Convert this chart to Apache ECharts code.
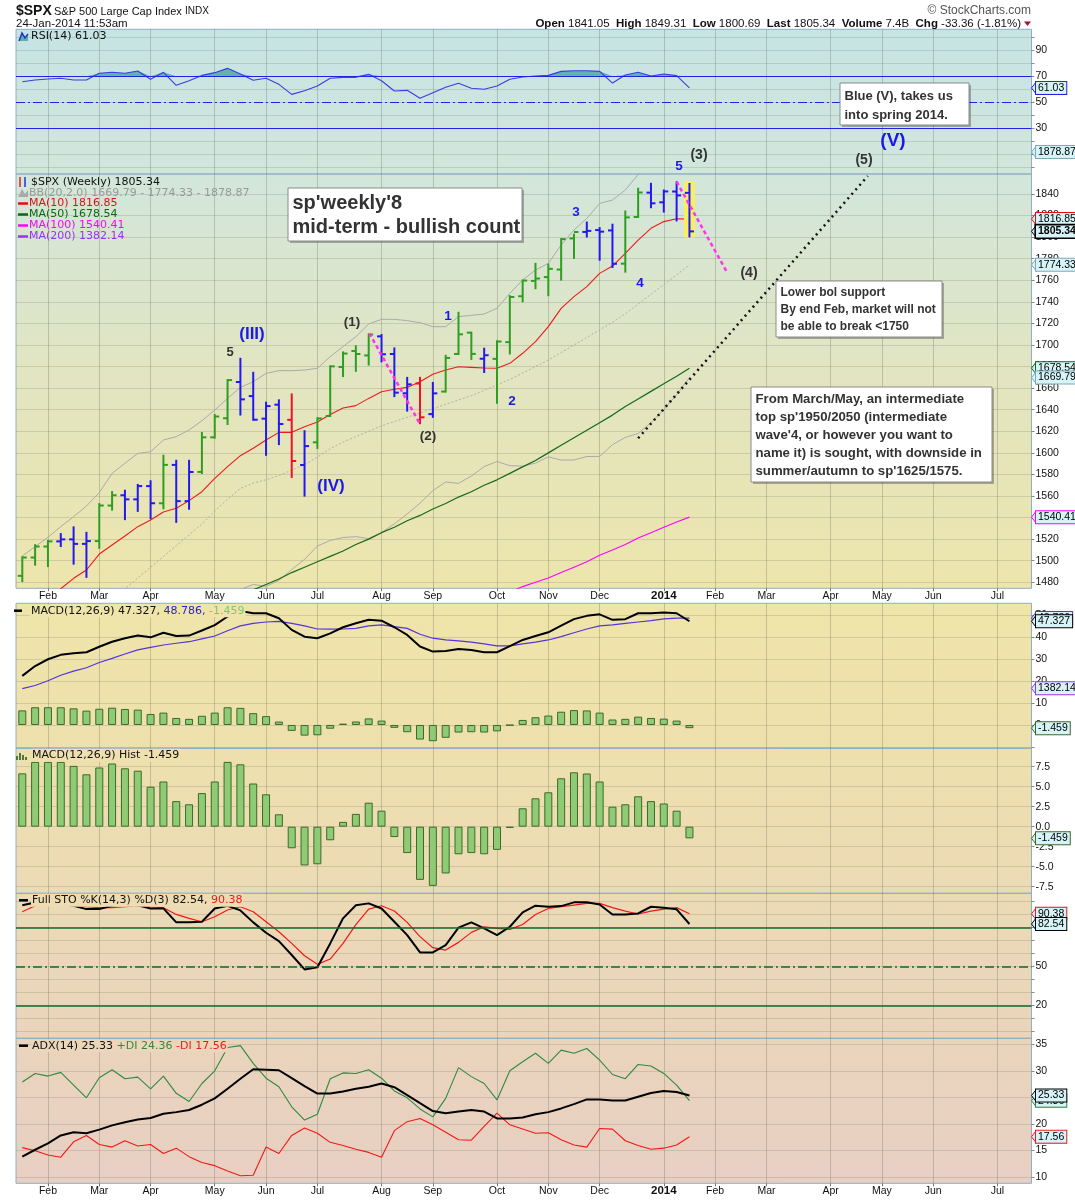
<!DOCTYPE html>
<html><head><meta charset="utf-8">
<script src="https://cdn.jsdelivr.net/npm/echarts@6/dist/echarts.min.js"></script>
<style>html,body{margin:0;padding:0;background:#fff}#c{width:1075px;height:1200px}</style>
</head><body><div id="c"></div>
<script>
// ---------- DATA (weekly bars, index 0 = week of 21-Jan-2013, 52 = week of 20-Jan-2014) ----------
const monthTickIdx = [2,6,10,15,19,23,28,32,37,41,45,50,54,58,63,67,71,76];
const monthTickLabels = ['Feb','Mar','Apr','May','Jun','Jul','Aug','Sep','Oct','Nov','Dec','2014','Feb','Mar','Apr','May','Jun','Jul'];

const open = [1485.98,1502.96,1513.17,1517.93,1519.79,1515.60,1518.20,1551.15,1560.70,1556.89,1569.18,1553.26,1588.84,1555.25,1582.34,1614.40,1632.10,1665.71,1652.63,1631.71,1644.67,1630.64,1588.77,1609.78,1634.20,1679.59,1694.41,1690.32,1708.01,1691.65,1655.25,1664.29,1635.95,1656.85,1691.70,1711.44,1687.26,1687.15,1702.68,1745.20,1759.42,1762.97,1769.96,1798.82,1804.82,1806.55,1806.21,1775.42,1818.70,1841.26,1832.31,1842.29,1841.05];
const high = [1503.26,1514.41,1518.31,1524.69,1530.94,1525.84,1552.48,1563.62,1564.91,1570.28,1573.66,1597.35,1592.64,1592.64,1618.46,1635.01,1667.47,1687.18,1674.21,1646.53,1648.69,1654.19,1620.07,1632.07,1680.19,1693.12,1698.78,1709.67,1709.24,1696.81,1669.51,1669.51,1664.83,1689.97,1729.86,1711.44,1696.55,1703.44,1745.31,1759.82,1775.22,1774.54,1798.22,1802.33,1813.55,1808.37,1811.52,1823.75,1844.89,1849.44,1843.23,1850.84,1849.31];
const low = [1481.16,1496.33,1495.02,1513.61,1497.29,1485.01,1512.00,1547.36,1538.57,1546.22,1539.50,1548.60,1536.03,1548.19,1581.28,1614.10,1626.74,1635.53,1630.74,1598.23,1608.07,1577.70,1560.33,1604.57,1634.20,1671.20,1676.03,1681.86,1684.91,1652.61,1639.18,1627.47,1633.41,1656.85,1691.70,1687.11,1674.99,1646.47,1692.13,1740.50,1752.70,1746.20,1760.64,1780.75,1800.58,1779.09,1772.28,1767.99,1818.70,1827.74,1823.73,1815.52,1800.69];
const close = [1502.96,1513.17,1517.93,1519.79,1515.60,1518.20,1551.18,1560.70,1556.89,1569.19,1553.28,1588.85,1555.25,1582.24,1614.42,1633.70,1667.47,1649.60,1630.74,1643.38,1626.73,1592.43,1606.28,1631.89,1680.19,1692.09,1691.65,1709.67,1691.42,1655.83,1663.50,1632.97,1655.17,1687.99,1709.91,1691.75,1690.50,1703.20,1744.50,1759.77,1761.64,1770.61,1798.18,1804.76,1805.81,1805.09,1775.32,1818.32,1841.40,1831.37,1842.37,1838.70,1805.34];
const barColors = ['g','g','g','b','b','b','g','g','b','b','b','g','b','b','g','g','g','b','b','b','b','r','b','g','g','g','g','g','b','b','b','r','b','g','g','g','b','g','g','g','g','g','g','g','b','b','b','g','g','b','b','b','b'];

const ma10 = [1452,1459,1466,1474,1483.7,1491.4,1506.2,1514.6,1522.9,1531.6,1537.7,1545.2,1548.6,1555.7,1564.0,1576.4,1587.2,1597.4,1604.2,1611.9,1619.0,1619.0,1624.3,1628.6,1635.5,1641.6,1643.8,1650.5,1656.7,1658.9,1660.7,1666.0,1672.8,1676.8,1679.9,1679.3,1678.7,1678.4,1683.0,1692.3,1703.1,1717.0,1734.0,1744.8,1754.1,1766.4,1773.2,1785.0,1797.3,1808.2,1814.4,1817.1,1816.85];
const ma50 = [null,null,null,null,null,null,null,null,null,null,null,null,null,null,null,1460,1465,1470,1473,1478,1483,1489,1494,1499,1504,1509,1515,1520,1526,1531,1537,1542,1548,1553,1559,1564,1570,1575,1581,1587,1593,1600,1607,1614,1621,1628,1635,1643,1650,1657,1664,1671,1678.54];
const ma100 = [null,null,null,null,null,null,null,null,null,null,null,null,null,null,null,null,null,null,null,null,null,null,null,null,null,null,null,null,null,null,null,null,null,null,null,null,null,1466,1471,1476,1480,1484,1489,1494,1499,1505,1510,1515,1521,1526,1531,1536,1540.41];
const bbUpper = [1504.4,1513.0,1521.7,1531.6,1540.8,1550.7,1563.1,1581.0,1590.3,1599.5,1601.1,1611.9,1615.0,1621.2,1629.8,1639.7,1650.5,1660.7,1666.0,1673.7,1676.2,1676.2,1676.8,1678.4,1689.2,1698.5,1707.7,1719.5,1723.8,1723.8,1722.6,1720.7,1717.0,1717.0,1726.3,1727.5,1728.7,1734.0,1747.9,1760.3,1769.5,1775.7,1792.7,1806.6,1817.4,1831.3,1834.4,1843.7,1858.0,1866.0,1872.0,1876.0,1878.87];
const bbMid = [1420,1427,1433,1440,1446,1452,1459,1466,1474,1484,1494,1504,1514,1524,1534,1546,1557,1567,1572,1575,1579,1584,1589,1596,1604,1610,1615,1620,1625,1629,1633,1637,1641,1645,1649,1653,1658,1663,1668,1674,1680,1686,1693,1700,1707,1714,1721,1729,1738,1747,1756,1765,1774.33];
const bbLower = [1335.6,1341.0,1344.3,1348.4,1351.2,1353.3,1354.9,1351.0,1357.7,1368.5,1386.9,1396.1,1413.0,1426.8,1438.2,1452.3,1463.5,1473.3,1478.0,1476.3,1481.8,1491.8,1501.2,1513.6,1518.8,1521.5,1522.3,1520.5,1526.2,1534.2,1543.4,1553.3,1565.0,1573.0,1571.7,1578.5,1587.3,1592.0,1588.1,1587.7,1590.5,1596.3,1593.3,1593.4,1596.6,1596.7,1607.6,1614.3,1618.0,1628.0,1640.0,1654.0,1669.79];

const rsi = [65.8,67.2,67.9,68.5,67.2,67.2,72.3,73.1,72.3,74.1,67.7,73.1,63.1,66.6,70.7,72.8,76.1,71.8,66.9,68.5,63.8,56.1,58.9,62.5,68.5,69.2,69.2,71.5,66.6,58.7,59.2,53.1,57.4,61.5,64.6,60.8,60.0,62.5,67.7,69.5,70.2,70.7,73.8,74.3,74.3,73.8,64.8,71.0,73.1,70.2,71.8,70.5,61.03];
const macd = [22.4,26.9,30.0,32.0,32.7,33.2,35.7,38.0,39.6,40.8,40.0,42.1,40.6,40.8,43.1,45.6,49.5,52.0,51.0,51.0,48.7,43.4,40.3,39.6,41.8,44.6,46.4,48.0,47.6,44.6,41.1,35.8,33.5,33.8,34.7,34.2,33.2,33.2,36.0,38.8,40.6,42.3,45.3,48.3,49.8,50.5,48.0,48.3,51.0,51.0,51.3,51.0,47.327];
const macdSignal = [16.6,18.0,20.2,22.7,24.6,26.1,28.5,30.4,32.4,34.3,35.4,36.5,37.3,38.0,39.3,40.6,43.0,45.2,46.4,47.0,47.3,46.4,45.2,43.8,43.7,43.8,44.1,45.2,45.7,44.9,44.1,41.4,39.6,38.8,38.4,37.8,37.0,36.1,36.1,37.0,37.8,38.8,40.3,42.1,43.8,45.2,45.7,46.4,47.0,47.6,48.4,48.8,48.786];
const macdHist = [6.67,8.1,8.1,8.1,7.6,6.55,7.4,7.9,7.3,7.0,5.0,5.65,3.2,2.8,4.2,5.65,8.1,7.8,5.4,4.05,1.55,-2.7,-4.85,-4.7,-1.7,0.6,1.6,3.0,2.0,-1.3,-3.3,-6.65,-7.4,-5.85,-3.45,-3.3,-3.45,-2.9,-0.15,2.3,3.55,4.3,6.05,6.8,6.65,5.65,2.5,2.8,3.8,3.2,2.9,2.0,-1.459];
const stoK = [97,99,99,98,96.6,94.0,94.0,96.6,98,97,94.5,94.5,83.8,83.8,84.3,94.5,96.6,93.0,83.8,75.8,69.4,58.7,47.6,49.2,67.6,86.9,97.0,98.4,94.5,84.3,74.0,60.7,60.7,66.3,79.7,83.8,79.2,74.0,80.4,91.5,96.6,95.8,96.3,99.2,99.2,97.6,89.9,89.9,90.7,95.8,95.1,93.8,82.54];
const stoD = [92,96.6,98,98,96.6,95.8,95.1,95.1,95.8,96.6,95.8,95.1,89.9,86.9,84.3,88.1,93.3,95.8,92.0,84.3,76.6,67.6,58.1,51.5,55.6,67.6,82.0,94.0,96.6,92.5,83.8,72.8,64.3,62.5,68.4,76.1,80.4,79.2,78.4,82.2,89.9,94.5,95.8,97.1,98.4,98.4,95.1,92.5,90.2,92.5,94.0,95.1,90.38];
const adx = [13.8,15.1,16.3,17.8,18.4,18.2,18.9,19.7,20.3,20.8,21.1,21.9,22.2,22.6,23.6,24.8,26.6,28.5,30.3,30.2,30.1,28.6,27.1,25.7,25.7,26.1,26.6,27.0,27.6,26.9,25.4,23.9,22.4,22.0,22.3,22.6,22.3,21.0,21.0,21.2,21.8,22.2,22.9,23.7,24.6,24.6,24.4,24.4,25.1,25.8,26.2,26.0,25.33];
const plusDI = [27.9,29.5,29.0,29.7,27.3,24.9,28.7,30.2,28.5,28.8,26.6,29.0,25.75,24.2,27.6,30.0,34.4,34.75,31.4,28.6,27.0,23.2,20.7,21.8,28.5,29.6,29.5,30.2,28.6,26.2,24.9,22.8,21.3,24.8,30.6,28.9,27.6,24.5,30.0,31.7,33.3,31.4,33.9,33.3,34.2,32.0,29.3,28.5,31.2,30.9,29.5,27.3,24.36];
const minusDI = [15.5,14.9,14.1,13.7,16.6,17.8,16.1,15.6,16.8,15.8,16.1,14.4,15.4,13.8,12.7,12.1,11.1,10.2,10.3,15.6,14.4,17.8,19.2,18.2,16.5,15.9,15.2,14.6,13.7,18.7,20.4,21.0,19.8,18.4,17.0,16.9,19.5,22.0,19.8,19.0,18.2,18.3,17.0,16.0,15.6,19.1,19.0,16.8,15.9,15.2,15.4,16.0,17.56];

// axis tick values
const rsiTicks = [30,50,70,90];
const rsiGridVals = [0,10,20,30,40,50,60,70,80,90,100];
const priceTicks = [1480,1500,1520,1540,1560,1580,1600,1620,1640,1660,1680,1700,1720,1740,1760,1780,1800,1820,1840];
const macdTicks = [0,10,20,30,40,50];
const macdGridVals = [-10,0,10,20,30,40,50];
const histTicks = [-7.5,-5,-2.5,0,2.5,5,7.5];
const stoTicks = [20,50,80];
const stoGridVals = [0,10,20,30,40,50,60,70,80,90,100];
const adxTicks = [10,15,20,25,30,35];

// analyst trend lines (data-space endpoints)
const trendLines = [
  {from:[27.05,1710.9], to:[30.94,1628.0], kind:'magenta'},
  {from:[51.0,1851.4], to:[54.9,1768.0], kind:'magenta'},
  {from:[48.0,1613.5], to:[65.9,1856.7], kind:'dots'}
];

// ---------- LAYOUT ----------
const L = 16, R = 1031.5, XMIN = -0.49, XMAX = 78.66;
const FA = 'Liberation Sans', FD = 'DejaVu Sans';
const panels = [
  {top:29.3, bottom:174, min:-5.15, max:106.15, lines:rsiGridVals, labels:rsiTicks, fmt:v=>String(v)},
  {top:174, bottom:588.3, min:1474.43, max:1858.54, lines:priceTicks, labels:priceTicks, fmt:v=>String(v)},
  {top:603.3, bottom:748.3, min:-10.64, max:55.53, lines:macdGridVals, labels:macdTicks, fmt:v=>String(v)},
  {top:748.3, bottom:893.3, min:-8.33, max:9.8, lines:histTicks, labels:histTicks, fmt:v=>v.toFixed(1)},
  {top:893.3, bottom:1038.3, min:-5.38, max:106.15, lines:stoGridVals, labels:stoTicks, fmt:v=>String(v)},
  {top:1038.3, bottom:1183.3, min:8.77, max:36.13, lines:adxTicks, labels:adxTicks, fmt:v=>String(v)}
];
const colorMap = {g:'#2e9e22', b:'#2418f0', r:'#f01028'};
const pts = a => a.map((v,i)=>[i,v]);
const fmtMonth = v => { const k = monthTickIdx.indexOf(Math.round(v)); const t = monthTickLabels[k] || ''; return t === '2014' ? '{b|2014}' : t; };

const grids = panels.map(p => ({left:L, top:p.top, width:R-L, height:p.bottom-p.top, show:true, borderColor:'#8fb0c0', borderWidth:1, backgroundColor:'transparent'}));
const xAxes = panels.map((p,i) => ({
  type:'value', gridIndex:i, min:XMIN, max:XMAX, position:'bottom',
  axisLine:{show:false, onZero:false},
  axisTick:{show:(i===1||i===5), customValues:monthTickIdx, length:3, lineStyle:{color:'#777'}},
  axisLabel:{show:(i===1||i===5), customValues:monthTickIdx, formatter:fmtMonth, fontFamily:FA, fontSize:10.5, color:'#111', margin:2,
    rich:{b:{fontFamily:FA, fontWeight:'bold', fontSize:11.5, color:'#111'}}},
  splitLine:{show:true, lineStyle:{color:'rgba(105,115,95,0.33)', width:1}}
}));
const yAxes = panels.map((p,i) => ({
  type:'value', gridIndex:i, position:'right', min:p.min, max:p.max,
  axisLine:{show:false, onZero:false},
  axisTick:{show:true, customValues:p.lines, length:3, lineStyle:{color:'#8a8a8a'}},
  axisLabel:{customValues:p.labels, formatter:p.fmt, fontFamily:FA, fontSize:10.5, color:'#111', margin:4},
  splitLine:{show:true, lineStyle:{color:'rgba(105,115,95,0.22)', width:1}}
}));

function lineS(gi, data, color, width, extra) {
  return Object.assign({type:'line', xAxisIndex:gi, yAxisIndex:gi, data:pts(data), symbol:'none', showSymbol:false,
    lineStyle:{color:color, width:width}, itemStyle:{color:color}, silent:true, z:2}, extra || {});
}
const dashDot = [9,3,2,3];
const hLines = (vals, color, width, dashIdx) => ({silent:true, symbol:['none','none'], label:{show:false}, animation:false,
  data: vals.map((v,k)=>({yAxis:v, lineStyle:{color:color, width:width, type: k===dashIdx ? dashDot : 'solid'}}))});

const series = [];
// RSI
series.push(lineS(0, rsi.map(v=>Math.max(v,70)), '#62b3aa', 0, {areaStyle:{color:'#62b3aa', opacity:1, origin:70}, lineStyle:{width:0, opacity:0}}));
series.push(lineS(0, rsi, '#3c3ce0', 1.1, {markLine: hLines([70,30,50], '#2222e6', 1.1, 2)}));
// Price
series.push(lineS(1, bbLower, '#999', 0, {stack:'bb', lineStyle:{opacity:0, width:0}}));
series.push(lineS(1, bbUpper.map((u,i)=>u-bbLower[i]), '#999', 0, {stack:'bb', lineStyle:{opacity:0, width:0}, areaStyle:{color:'rgba(95,95,95,0.17)'}}));
series.push(lineS(1, bbUpper, '#aaaaaa', 1));
series.push(lineS(1, bbLower, '#aaaaaa', 1));
series.push(lineS(1, bbMid, '#b0b0a8', 1, {lineStyle:{color:'#b0b0a8', width:1, type:[2,2]}}));
series.push(lineS(1, ma100, '#ff00ff', 1.1, {markLine:{silent:true, symbol:['none','none'], label:{show:false}, animation:false,
  data: trendLines.map(t => [{coord:t.from}, {coord:t.to, lineStyle: t.kind==='magenta'
     ? {color:'#ff33ee', width:2.5, type:[4,3]} : {color:'#111', width:2.5, type:[2,4]}}])}}));
series.push(lineS(1, ma50, '#17691a', 1.2));
series.push(lineS(1, ma10, '#ee1a1a', 1.1));
const last = close.length - 1;
series.push({type:'custom', xAxisIndex:1, yAxisIndex:1, silent:true, z:3, data:[[last, high[last], low[last]]],
  renderItem:(params, api) => { const a = api.coord([api.value(0), api.value(1)]); const b = api.coord([api.value(0), api.value(2)]);
    return {type:'rect', shape:{x:a[0]-5.5, y:a[1]-2.5, width:11, height:b[1]-a[1]+3.5}, style:{fill:'#f6f062'}}; }});
series.push({type:'custom', xAxisIndex:1, yAxisIndex:1, silent:true, z:4,
  data: close.map((c,i)=>[i, open[i], high[i], low[i], c]),
  renderItem:(params, api) => {
    const x = api.value(0);
    const ph = api.coord([x, api.value(2)]), pl = api.coord([x, api.value(3)]);
    const po = api.coord([x, api.value(1)]), pc = api.coord([x, api.value(4)]);
    const col = colorMap[barColors[params.dataIndex]];
    const st = {stroke:col, lineWidth:2};
    return {type:'group', children:[
      {type:'line', shape:{x1:ph[0], y1:ph[1]-1, x2:pl[0], y2:pl[1]+1}, style:st},
      {type:'line', shape:{x1:po[0]-4.5, y1:po[1], x2:po[0], y2:po[1]}, style:st},
      {type:'line', shape:{x1:pc[0], y1:pc[1], x2:pc[0]+4.5, y2:pc[1]}, style:st}
    ]};
  }});
// MACD
const barStyle = {color:'#8fcb74', borderColor:'#3c6a2c', borderWidth:1};
series.push({type:'bar', xAxisIndex:2, yAxisIndex:2, data:pts(macdHist), barWidth:8, itemStyle:barStyle, silent:true});
series.push(lineS(2, macdSignal, '#5533dd', 1.2));
series.push(lineS(2, macd, '#000000', 2));
// Hist
series.push({type:'bar', xAxisIndex:3, yAxisIndex:3, data:pts(macdHist), barWidth:8, itemStyle:barStyle, silent:true});
// STO
series.push(lineS(4, stoD, '#f01818', 1.2, {markLine: hLines([80,20,50], '#0b6a32', 1.5, 2)}));
series.push(lineS(4, stoK, '#000000', 2));
// ADX
series.push(lineS(5, minusDI, '#f01818', 1.1));
series.push(lineS(5, plusDI, '#2e8a40', 1.1));
series.push(lineS(5, adx, '#000000', 2));

const chart = echarts.init(document.getElementById('c'), null, {renderer:'canvas'});
chart.setOption({animation:false, backgroundColor:'#ffffff', grid:grids, xAxis:xAxes, yAxis:yAxes, series:series});

// ---------- GRAPHICS (backgrounds, titles, legends, notes, value tags) ----------
const G = [];
const grad = (stops) => ({type:'linear', x:0, y:0, x2:0, y2:1, colorStops: stops.map(s=>({offset:s[0], color:s[1]}))});
G.push({type:'rect', z:-10, silent:true, shape:{x:L, y:29.3, width:R-L, height:588.3-29.3},
  style:{fill:grad([[0,'#c6e4e4'],[0.26,'#d2e6db'],[0.6,'#e1e5c2'],[1,'#ede5ac']])}});
G.push({type:'rect', z:-10, silent:true, shape:{x:L, y:603.3, width:R-L, height:1183.3-603.3},
  style:{fill:grad([[0,'#efe5aa'],[0.25,'#eee0ad'],[0.5,'#ecdab5'],[0.75,'#ead4bc'],[1,'#e8cfc3']])}});

function txt(x, y, text, font, fill, extra) {
  G.push({type:'text', z:100, silent:true, x:x, y:y, style:Object.assign({text:text, font:font, fill:fill, align:'left', verticalAlign:'middle'}, extra||{})});
}
function hline(x1, y, x2, color, w) { G.push({type:'line', z:100, silent:true, shape:{x1:x1, y1:y, x2:x2, y2:y}, style:{stroke:color, lineWidth:w||2}}); }

// header
txt(16, 11, '$SPX', 'bold 14px "Liberation Sans"', '#111');
txt(54, 11.5, 'S&P 500 Large Cap Index', '11px "Liberation Sans"', '#111');
txt(185, 11.5, 'INDX', '10px "Liberation Sans"', '#111');
txt(16, 24, '24-Jan-2014 11:53am', '11.5px "Liberation Sans"', '#111');
txt(1031, 10.5, '\u00A9 StockCharts.com', '12px "Liberation Sans"', '#555', {align:'right'});
const chg = close[last] - close[last-1];
txt(1021, 24, '{b|Open} ' + open[last].toFixed(2) + '  {b|High} ' + high[last].toFixed(2) + '  {b|Low} ' + low[last].toFixed(2) +
  '  {b|Last} ' + close[last].toFixed(2) + '  {b|Volume} 7.4B  {b|Chg} ' + chg.toFixed(2) + ' (' + (chg/close[last-1]*100).toFixed(2) + '%)',
  '11.5px "Liberation Sans"', '#111', {align:'right', rich:{b:{font:'bold 11.5px "Liberation Sans"', fill:'#111'}}});
G.push({type:'polygon', z:100, silent:true, shape:{points:[[1024,21.5],[1031,21.5],[1027.5,26]]}, style:{fill:'#a0103a'}});

// panel legends
G.push({type:'polyline', z:100, silent:true, shape:{points:[[19,41],[22,33],[25,38],[28,34]]}, style:{stroke:'#2233cc', lineWidth:1.5, fill:null}});
G.push({type:'polygon', z:99, silent:true, shape:{points:[[19,41],[22,33],[25,38],[28,34],[28,41]]}, style:{fill:'#5fb0a8'}});
txt(31, 36.5, 'RSI(14) ' + rsi[last].toFixed(2), '11px "DejaVu Sans"', '#111');
G.push({type:'line', z:100, silent:true, shape:{x1:20, y1:177, x2:20, y2:187}, style:{stroke:'#e02020', lineWidth:1.5}});
G.push({type:'line', z:100, silent:true, shape:{x1:25, y1:177, x2:25, y2:187}, style:{stroke:'#2233dd', lineWidth:1.5}});
txt(31, 182, '$SPX (Weekly) ' + close[last].toFixed(2), '11px "DejaVu Sans"', '#111');
G.push({type:'polygon', z:100, silent:true, shape:{points:[[18,197],[22,189],[25,194],[28,190],[28,197]]}, style:{fill:'#aaaaaa'}});
txt(29, 193, 'BB(20,2.0) ' + bbLower[last].toFixed(2) + ' - ' + bbMid[last].toFixed(2) + ' - ' + bbUpper[last].toFixed(2), '11px "DejaVu Sans"', '#999');
const maLeg = [['MA(10) ' + ma10[last].toFixed(2), '#e01010', 203.5], ['MA(50) ' + ma50[last].toFixed(2), '#0a6a10', 214.5],
  ['MA(100) ' + ma100[last].toFixed(2), '#ff00ff', 225.5], ['MA(200) 1382.14', '#9933ee', 236.5]];
maLeg.forEach(m => { hline(18, m[2], 28, m[1], 2.5); txt(29, m[2], m[0], '11px "DejaVu Sans"', m[1]); });

hline(14, 610.7, 22, '#000', 2.5);
txt(30, 610.7, '{k|MACD(12,26,9) ' + macd[last].toFixed(3) + ', }{p|' + macdSignal[last].toFixed(3) + ', }{g|' + macdHist[last].toFixed(3) + '}',
  '11px "DejaVu Sans"', '#111', {backgroundColor:'#efe5ab', padding:[1,1,1,1],
  rich:{k:{font:'11px "DejaVu Sans"', fill:'#111'}, p:{font:'11px "DejaVu Sans"', fill:'#2a22cc'}, g:{font:'11px "DejaVu Sans"', fill:'#78c878'}}});
[[15,4],[18,7],[21,5],[24,3]].forEach(b => G.push({type:'rect', z:100, silent:true, shape:{x:b[0]+1, y:760-b[1], width:2, height:b[1]}, style:{fill:'#4a7a3a'}}));
txt(31, 755.3, 'MACD(12,26,9) Hist ' + macdHist[last].toFixed(3), '11px "DejaVu Sans"', '#111', {backgroundColor:'#eee1ad', padding:[1,1,1,1]});
hline(19, 900.3, 28, '#000', 2.5);
txt(31, 900.3, '{k|Full STO %K(14,3) %D(3) ' + stoK[last].toFixed(2) + ', }{r|' + stoD[last].toFixed(2) + '}', '11px "DejaVu Sans"', '#111',
  {backgroundColor:'#eedcb2', padding:[1,1,1,1], rich:{k:{font:'11px "DejaVu Sans"', fill:'#111'}, r:{font:'11px "DejaVu Sans"', fill:'#f01818'}}});
hline(19, 1045.7, 28, '#000', 2.5);
txt(31, 1045.7, '{k|ADX(14) ' + adx[last].toFixed(2) + ' }{g|+DI ' + plusDI[last].toFixed(2) + ' }{r|-DI ' + minusDI[last].toFixed(2) + '}', '11px "DejaVu Sans"', '#111',
  {backgroundColor:'#ebd6ba', padding:[1,1,1,1], rich:{k:{font:'11px "DejaVu Sans"', fill:'#111'}, g:{font:'11px "DejaVu Sans"', fill:'#2e8a40'}, r:{font:'11px "DejaVu Sans"', fill:'#f01818'}}});

// annotation boxes
function box(x, y, w, h, lines, font, lineStep, firstY) {
  G.push({type:'rect', z:100, silent:true, shape:{x:x+2, y:y+2, width:w, height:h}, style:{fill:'rgba(0,0,0,0.28)'}});
  G.push({type:'rect', z:101, silent:true, shape:{x:x, y:y, width:w, height:h}, style:{fill:'#ffffff', stroke:'#8a8a8a', lineWidth:1}});
  lines.forEach((t,k) => G.push({type:'text', z:102, silent:true, x:x+4.5, y:firstY + k*lineStep, style:{text:t, font:font, fill:'#333', align:'left', verticalAlign:'middle'}}));
}
box(288, 188, 234, 53, ["sp'weekly'8", 'mid-term - bullish count'], 'bold 20px "Liberation Sans"', 23.5, 203.5);
box(840, 83, 129, 42, ['Blue (V), takes us', 'into spring 2014.'], 'bold 13px "Liberation Sans"', 18.5, 96.5);
box(776, 281, 166, 56, ['Lower bol support', 'By end Feb, market will not', 'be able to break <1750'], 'bold 12px "Liberation Sans"', 17, 293);
box(751, 387, 241, 95, ['From March/May, an intermediate', "top sp'1950/2050 (intermediate", "wave'4, or however you want to",
  'name it) is sought, with downside in', "summer/autumn to sp'1625/1575."], 'bold 13.2px "Liberation Sans"', 18, 399.5);

// wave labels
const wl = (x, y, t, size, color) => G.push({type:'text', z:100, silent:true, x:x, y:y, style:{text:t, font:'bold ' + size + 'px "Liberation Sans"', fill:color, align:'center', verticalAlign:'middle'}});
wl(252, 334, '(III)', 17, '#1a1ae8'); wl(230, 352, '5', 13, '#333'); wl(331, 486, '(IV)', 17, '#1a1ae8');
wl(352, 322, '(1)', 13.5, '#333'); wl(448, 316, '1', 13.5, '#1a1ae8'); wl(428, 436, '(2)', 13.5, '#333'); wl(512, 401, '2', 13.5, '#1a1ae8');
wl(576, 212, '3', 13.5, '#1a1ae8'); wl(640, 283, '4', 13.5, '#1a1ae8'); wl(679, 166, '5', 13.5, '#1a1ae8');
wl(699, 155, '(3)', 14, '#333'); wl(749, 273, '(4)', 14, '#333'); wl(864, 160, '(5)', 14, '#333'); wl(893, 141, '(V)', 19, '#1a1ae8');

// value tags on the right axis
function tagAt(y, text, border, bold) {
  const bg = '#d6f3f8';
  G.push({type:'polygon', z:110, silent:true, shape:{points:[[R,y],[R+5,y-6.5],[R+5,y+6.5]]}, style:{fill:bg, stroke:border, lineWidth:1}});
  G.push({type:'text', z:111, silent:true, x:R+4.5, y:y, style:{text:text, font:(bold?'bold ':'') + '10.5px "Liberation Sans"', fill:'#000', align:'left', verticalAlign:'middle',
    backgroundColor:bg, borderColor:border, borderWidth:bold?1.6:1, padding:[1,2,0,2]}});
}
const tag = (axis, v, text, border, bold) => tagAt(chart.convertToPixel({yAxisIndex:axis}, v), text, border, bold);
tag(0, rsi[last], rsi[last].toFixed(2), '#2222dd');
tag(1, bbUpper[last], bbUpper[last].toFixed(2), '#7fa9b8');
tag(1, ma10[last], ma10[last].toFixed(2), '#e01010');
tag(1, close[last], close[last].toFixed(2), '#000', true);
tag(1, bbMid[last], bbMid[last].toFixed(2), '#7fa9b8');
tag(1, ma50[last], ma50[last].toFixed(2), '#0a6a10');
tag(1, bbLower[last], bbLower[last].toFixed(2), '#7fa9b8');
tag(1, ma100[last], ma100[last].toFixed(2), '#ff00ff');
tag(2, macdSignal[last], macdSignal[last].toFixed(3), '#5533dd');
tag(2, macd[last], macd[last].toFixed(3), '#000');
tagAt(688.3, '1382.14', '#9933ee');
tag(2, macdHist[last], macdHist[last].toFixed(3), '#3c6a2c');
tag(3, macdHist[last], macdHist[last].toFixed(3), '#3c6a2c');
tag(4, stoD[last], stoD[last].toFixed(2), '#f01818');
tag(4, stoK[last], stoK[last].toFixed(2), '#000');
tag(5, plusDI[last], plusDI[last].toFixed(2), '#2e8a40');
tag(5, adx[last], adx[last].toFixed(2), '#000');
tag(5, minusDI[last], minusDI[last].toFixed(2), '#f01818');

chart.setOption({graphic:{elements:G}});
</script></body></html>
